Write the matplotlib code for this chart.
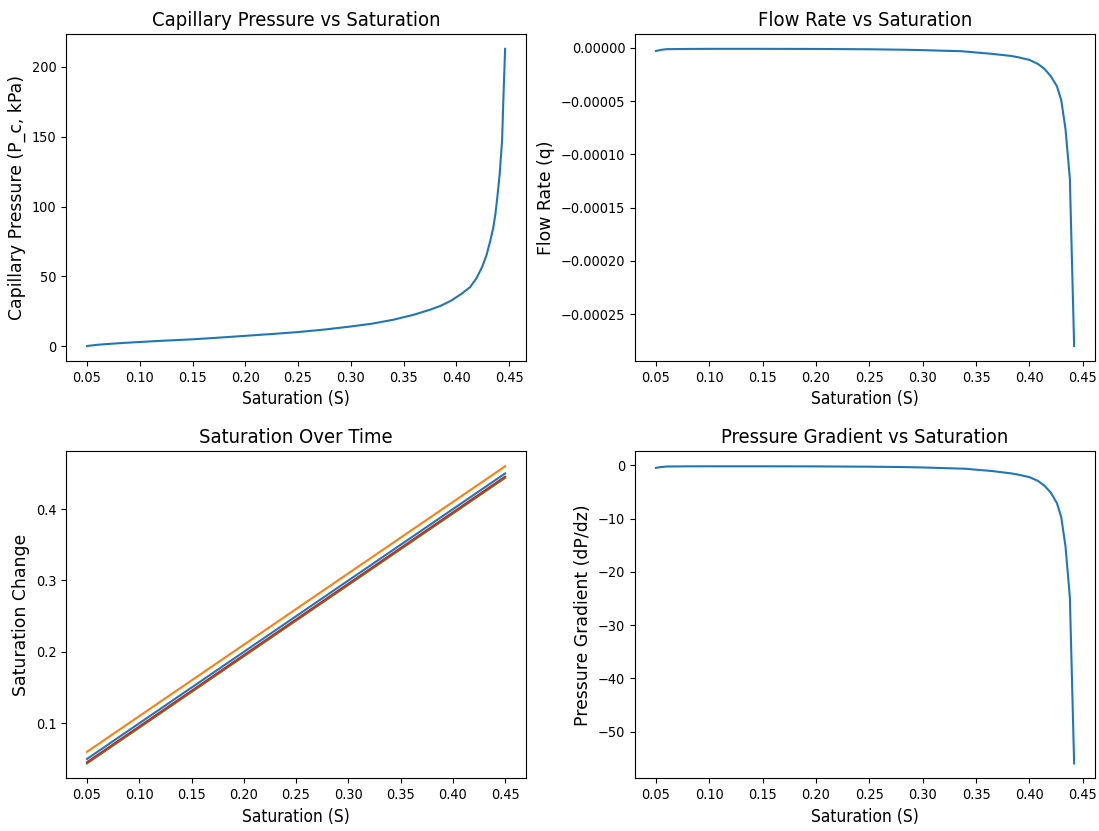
import numpy as np
import matplotlib
matplotlib.use("Agg")
import matplotlib.pyplot as plt

# Values
cap_S = [0.05, 0.06, 0.08, 0.10, 0.125, 0.15, 0.175, 0.20, 0.225, 0.25, 0.275, 0.30,
         0.32, 0.34, 0.36, 0.375, 0.385, 0.395, 0.405, 0.413, 0.419, 0.4243, 0.4285,
         0.4322, 0.435, 0.437, 0.439, 0.441, 0.4433, 0.4448, 0.4462]
cap_Pc = [0.0, 0.9, 2.0, 2.9, 3.9, 4.8, 6.0, 7.3, 8.6, 10.0, 11.8, 14.0,
          16.0, 18.8, 22.5, 26.0, 28.8, 32.5, 37.5, 42.2, 48.5, 56.5, 65.0,
          75.6, 85.0, 94.7, 108.0, 123.0, 147.0, 183.0, 213.0]

flow_S = [0.05, 0.055, 0.06, 0.08, 0.10, 0.15, 0.20, 0.25, 0.28, 0.30, 0.32, 0.336,
          0.35, 0.365, 0.375, 0.383, 0.39, 0.40, 0.408, 0.414, 0.42, 0.4258, 0.4298,
          0.4338, 0.4379, 0.4419]
flow_q = [-2.8e-6, -1.7e-6, -1.1e-6, -0.9e-6, -0.8e-6, -0.8e-6, -0.9e-6, -1.2e-6,
          -1.6e-6, -2.0e-6, -2.6e-6, -3.0e-6, -4.2e-6, -5.5e-6, -6.6e-6, -7.5e-6,
          -8.8e-6, -1.12e-5, -1.5e-5, -1.95e-5, -2.65e-5, -3.6e-5, -4.9e-5,
          -7.6e-5, -1.23e-4, -2.8e-4]

time_S = [0.05, 0.45]
sat_series = [
    [0.050, 0.450],
    [0.060, 0.460],
    [0.0437, 0.4437],
    [0.0455, 0.4455],
]

grad_S = [0.05, 0.055, 0.06, 0.08, 0.10, 0.15, 0.20, 0.25, 0.28, 0.30, 0.32, 0.34,
          0.35, 0.365, 0.375, 0.383, 0.39, 0.40, 0.408, 0.414, 0.42, 0.4258, 0.4298,
          0.4338, 0.4379, 0.4419]
grad_dP = [-0.45, -0.3, -0.2, -0.17, -0.16, -0.16, -0.18, -0.24, -0.3, -0.38,
           -0.5, -0.62, -0.8, -1.05, -1.3, -1.5, -1.75, -2.2, -2.9, -3.8, -5.1,
           -7.1, -9.7, -15.2, -24.8, -56.0]

# original looked like a 12x8 figure squeezed to 1099x831
sy = 831 / 800
hfont = dict(family="DejaVu Sans", stretch="condensed")

fig, axes = plt.subplots(2, 2, figsize=(10.99, 8.31), dpi=100)
plt.subplots_adjust(left=0.0601, right=0.9964, top=0.9591, bottom=0.0634,
                    wspace=0.237, hspace=0.277)


def style(ax, title, xlabel, ylabel):
    ax.set_title(title, fontsize=14 * sy, **hfont)
    ax.set_xlabel(xlabel, fontsize=12 * sy, **hfont)
    ax.set_ylabel(ylabel, fontsize=12 * sy, family="DejaVu Sans")
    for lab in ax.get_xticklabels() + ax.get_yticklabels():
        lab.set_fontsize(10 * sy)
        lab.set_fontfamily("DejaVu Sans")
        lab.set_fontstretch("condensed")


ax = axes[0, 0]
ax.plot(cap_S, cap_Pc)
style(ax, "Capillary Pressure vs Saturation", "Saturation (S)", "Capillary Pressure (P_c, kPa)")

ax = axes[0, 1]
ax.plot(flow_S, flow_q)
style(ax, "Flow Rate vs Saturation", "Saturation (S)", "Flow Rate (q)")

ax = axes[1, 0]
for vals in sat_series:
    ax.plot(time_S, vals)
style(ax, "Saturation Over Time", "Saturation (S)", "Saturation Change")

ax = axes[1, 1]
ax.plot(grad_S, grad_dP)
style(ax, "Pressure Gradient vs Saturation", "Saturation (S)", "Pressure Gradient (dP/dz)")

fig.savefig("out.png", dpi=100)
